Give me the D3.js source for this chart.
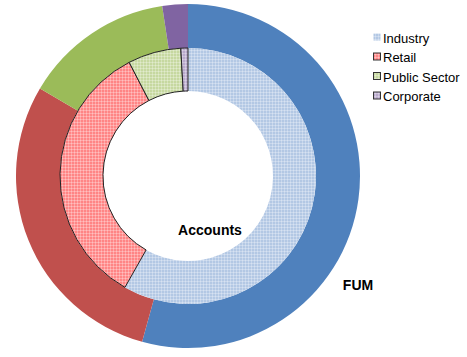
<!DOCTYPE html>
<html><head><meta charset="utf-8">
<script src="https://cdn.jsdelivr.net/npm/d3@7"></script>
<style>body{margin:0;background:#fff}svg{display:block}</style>
</head><body>
<script>
const categories = ["Industry", "Retail", "Public Sector", "Corporate"];
const fumValues = [54.3, 29.2, 14.1, 2.4];
const accountValues = [58.2, 34.2, 6.7, 0.9];
const outerColors = ["#4f81bd", "#c0504d", "#9bbb59", "#8064a2"];
const innerColors = ["#b3c8e4", "#ff8585", "#c6d8a0", "#b9a9cc"];
const W = 467, H = 357;
const svg = d3.select("body").append("svg").attr("width", W).attr("height", H);
const defs = svg.append("defs");
innerColors.forEach((c, i) => {
  const p = defs.append("pattern").attr("id", "pat" + i).attr("patternUnits", "userSpaceOnUse")
    .attr("width", 3).attr("height", 3);
  p.append("rect").attr("width", 3).attr("height", 3).attr("fill", c);
  p.append("rect").attr("width", 3).attr("height", 1).attr("fill", "#fff").attr("opacity", 0.28);
  p.append("rect").attr("width", 1).attr("height", 3).attr("fill", "#fff").attr("opacity", 0.28);
});
const cx = 188, cy = 176;
const g = svg.append("g").attr("transform", `translate(${cx},${cy})`);
const pie = d3.pie().sort(null).value(d => d);
const outerArc = d3.arc().innerRadius(128).outerRadius(172);
const innerArc = d3.arc().innerRadius(85).outerRadius(128);
g.selectAll("path.outer").data(pie(fumValues)).enter().append("path")
  .attr("class", "outer").attr("d", outerArc).attr("fill", (d, i) => outerColors[i]);
g.selectAll("path.inner").data(pie(accountValues)).enter().append("path")
  .attr("class", "inner").attr("d", innerArc).attr("fill", (d, i) => `url(#pat${i})`)
  .attr("stroke", (d, i) => i === 0 ? "none" : "#222").attr("stroke-width", 1);
svg.append("text").attr("x", 210).attr("y", 235).attr("text-anchor", "middle")
  .attr("font-family", "Liberation Sans, Arial, sans-serif").attr("font-weight", "bold")
  .attr("font-size", 14).attr("fill", "#000").text("Accounts");
svg.append("text").attr("x", 358).attr("y", 290).attr("text-anchor", "middle")
  .attr("font-family", "Liberation Sans, Arial, sans-serif").attr("font-weight", "bold")
  .attr("font-size", 14).attr("fill", "#000").text("FUM");
const leg = svg.append("g");
categories.forEach((c, i) => {
  const y = 38 + i * 19.5;
  leg.append("rect").attr("x", 373.5).attr("y", y - 4.5).attr("width", 7).attr("height", 7)
    .attr("fill", `url(#pat${i})`).attr("stroke", i === 0 ? "none" : "#333").attr("stroke-width", 1);
  leg.append("text").attr("x", 383).attr("y", y + 4.5)
    .attr("font-family", "Liberation Sans, Arial, sans-serif").attr("font-size", 13)
    .attr("fill", "#000").text(c);
});
</script>
</body></html>
